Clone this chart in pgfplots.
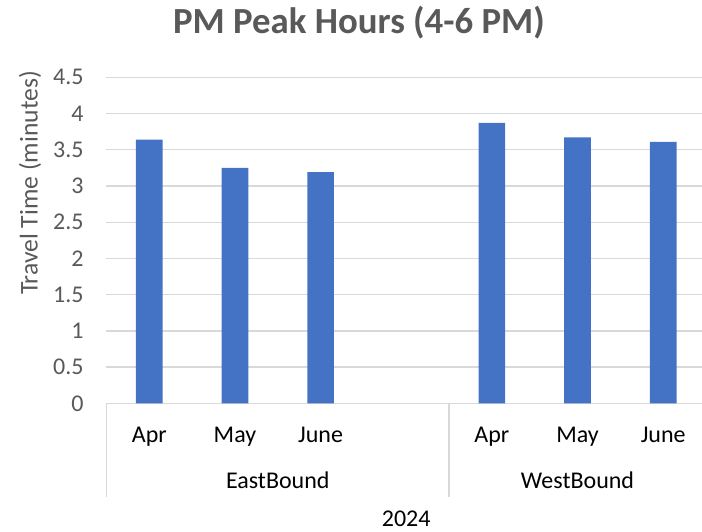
\documentclass[border=0pt]{standalone}
\usepackage{fontspec}
\setmainfont{Carlito}
\usepackage{pgfplots}
\pgfplotsset{compat=1.18}
\definecolor{barblue}{HTML}{4472C4}
\definecolor{gridgray}{HTML}{D9D9D9}
\definecolor{labgray}{HTML}{595959}
\begin{document}
\begin{tikzpicture}
\begin{axis}[
  at={(0pt,0pt)}, anchor=south west, scale only axis,
  width=299.75pt, height=163pt,
  xmin=-0.5, xmax=6.5, ymin=0, ymax=4.5,
  axis lines*=left,
  y axis line style={draw=none},
  x axis line style={draw=gridgray, line width=0.65pt},
  ymajorgrids, grid style={gridgray, line width=0.65pt},
  major tick length=0pt,
  ytick={0,0.5,...,4.5},
  /pgf/number format/assume math mode=true,
  yticklabel style={anchor=east, inner sep=0pt, xshift=-11.25pt, text=labgray, font=\fontsize{12}{12}\selectfont},
  xtick={0,1,2,4,5,6},
  xticklabels={Apr,May,June,Apr,May,June},
  xticklabel style={anchor=base, inner sep=0pt, yshift=-19.7pt, text=black, font=\fontsize{12}{12}\selectfont},
  ybar, bar width=13.35pt,
]
\addplot[fill=barblue, draw=none] coordinates {(0,3.64) (1,3.25) (2,3.19) (4,3.87) (5,3.67) (6,3.61)};
\end{axis}
\draw[gridgray, line width=0.65pt] (0pt,0pt) -- (0pt,-46.85pt);
\draw[gridgray, line width=0.65pt] (171.29pt,0pt) -- (171.29pt,-46.85pt);
\draw[gridgray, line width=0.65pt] (299.75pt,0pt) -- (299.75pt,-46.85pt);
\node[anchor=base, inner sep=0pt, font=\fontsize{12}{12}\selectfont] at (85.64pt,-42.5pt) {EastBound};
\node[anchor=base, inner sep=0pt, font=\fontsize{12}{12}\selectfont] at (235.5pt,-42.5pt) {WestBound};
\node[anchor=base, inner sep=0pt, font=\fontsize{12}{12}\selectfont] at (149.87pt,-61.7pt) {2024};
\node[rotate=90, inner sep=0pt, text=labgray, font=\fontsize{12.8}{13}\selectfont] at (-38.25pt,110.15pt) {Travel Time (minutes)};
\node[anchor=base, inner sep=0pt, text=labgray, font=\bfseries\fontsize{18.4}{19}\selectfont] at (126.25pt,185pt) {PM Peak Hours (4-6 PM)};
\pgfresetboundingbox
\useasboundingbox (-53.25pt,-63.85pt) rectangle (297.75pt,201.65pt);
\end{tikzpicture}
\end{document}
